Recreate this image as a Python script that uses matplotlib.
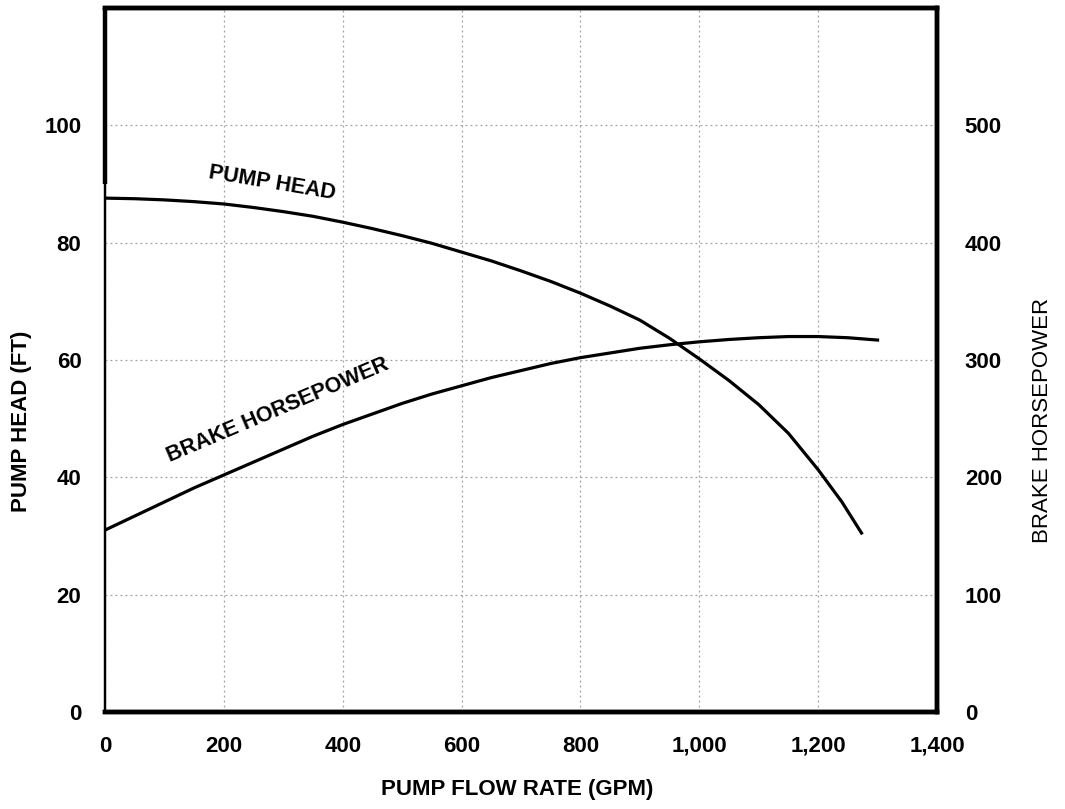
import matplotlib.pyplot as plt
from matplotlib.ticker import FuncFormatter

plt.rcParams['font.family'] = ['Liberation Sans', 'DejaVu Sans']

# pump head curve (ft) vs flow (gpm)
head_flow = [0, 50, 100, 150, 200, 250, 300, 350, 400, 450, 500, 550, 600, 650, 700,
             750, 800, 850, 900, 950, 1000, 1050, 1100, 1150, 1200, 1240, 1273]
head_ft = [87.6, 87.5, 87.3, 87.0, 86.6, 86.0, 85.3, 84.5, 83.5, 82.4, 81.2, 79.9, 78.4, 76.9, 75.2,
           73.4, 71.4, 69.2, 66.8, 63.7, 60.2, 56.5, 52.4, 47.5, 41.3, 35.8, 30.5]

# brake horsepower vs flow (gpm)
bhp_flow = [0, 50, 100, 150, 200, 250, 300, 350, 400, 450, 500, 550, 600, 650, 700,
            750, 800, 850, 900, 950, 1000, 1050, 1100, 1150, 1200, 1250, 1300]
bhp = [155, 167, 179, 191, 202, 213, 224, 235, 245, 254, 263, 271, 278, 285, 291,
       297, 302, 306, 310, 313, 315.5, 317.5, 319, 320, 320, 319, 317]

x_ticks = [0, 200, 400, 600, 800, 1000, 1200, 1400]
left_ticks = [0, 20, 40, 60, 80, 100]
right_ticks = [0, 100, 200, 300, 400, 500]

fig = plt.figure(figsize=(10.65, 8.09), dpi=100)
ax = fig.add_axes([0.0986, 0.12, 0.7812, 0.87])
ax2 = ax.twinx()

ax.plot(head_flow, head_ft, color='black', lw=2.3)
ax2.plot(bhp_flow, bhp, color='black', lw=2.3)

ax.set_xlim(0, 1400)
ax.set_ylim(0, 120)
ax2.set_ylim(0, 600)

ax.set_xticks(x_ticks)
ax.set_yticks(left_ticks)
ax2.set_yticks(right_ticks)
ax.xaxis.set_major_formatter(FuncFormatter(lambda v, p: f"{int(v):,}"))

ax.grid(True, color='#a0a0a0', linestyle=(0, (1.5, 2.5)), linewidth=0.9)

for a in (ax, ax2):
    a.tick_params(length=0, labelsize=16)
ax.tick_params(axis='x', pad=17)
ax.tick_params(axis='y', pad=17)
ax2.tick_params(axis='y', pad=20)
for lab in ax.get_xticklabels() + ax.get_yticklabels() + ax2.get_yticklabels():
    lab.set_fontweight('bold')

for name in ('top', 'right', 'bottom'):
    ax.spines[name].set_linewidth(3.2)
    ax2.spines[name].set_linewidth(3.2)
ax.spines['left'].set_linewidth(1.6)
ax2.spines['left'].set_linewidth(1.6)
# thicker piece of the left border near the top
ax.plot([0, 0], [90, 120], color='black', lw=3.2, clip_on=False, solid_capstyle='butt')

fig.text(517 / 1065, 1 - 790 / 809, 'PUMP FLOW RATE (GPM)', fontsize=16, fontweight='bold',
         ha='center', va='center')
fig.text(22 / 1065, 1 - 421 / 809, 'PUMP HEAD (FT)', fontsize=16, fontweight='bold',
         rotation=90, ha='center', va='center')
fig.text(1042 / 1065, 1 - 420 / 809, 'BRAKE HORSEPOWER', fontsize=16,
         rotation=90, ha='center', va='center')

ax.text(281, 90.1, 'PUMP HEAD', fontsize=15.5, fontweight='bold', rotation=-9.5,
        ha='center', va='center')
ax.text(291, 51.4, 'BRAKE HORSEPOWER', fontsize=15.5, fontweight='bold', rotation=23,
        ha='center', va='center')

fig.savefig('out.png', dpi=100)
